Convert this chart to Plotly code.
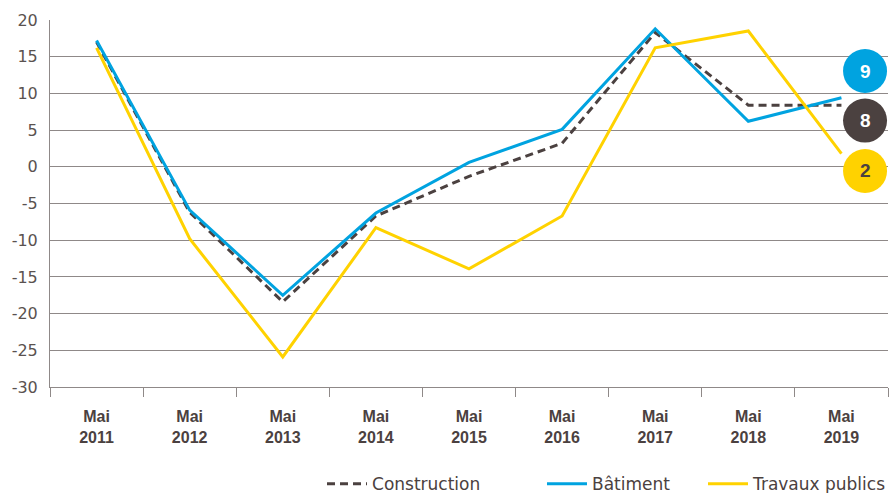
import plotly.graph_objects as go

categories = ["Mai<br>2011", "Mai<br>2012", "Mai<br>2013", "Mai<br>2014", "Mai<br>2015",
              "Mai<br>2016", "Mai<br>2017", "Mai<br>2018", "Mai<br>2019"]
construction = [17.0, -6.2, -18.4, -6.7, -1.3, 3.2, 18.3, 8.4, 8.4]
batiment = [17.2, -5.9, -17.5, -6.3, 0.6, 5.1, 18.8, 6.2, 9.4]
travaux = [16.2, -9.8, -25.9, -8.3, -13.9, -6.7, 16.2, 18.5, 1.8]
y_ticks = [20, 15, 10, 5, 0, -5, -10, -15, -20, -25, -30]

DARK = "#4b4140"
BLUE = "#00a3e0"
YELLOW = "#ffd200"
GRID = "#8f8988"
FONT = "Liberation Sans, Arial, sans-serif"
FONT2 = "DejaVu Sans, sans-serif"

fig = go.Figure()
fig.add_trace(go.Scatter(x=categories, y=construction, name="Construction", mode="lines",
                         legend="legend", showlegend=True,
                         line=dict(color=DARK, width=3, dash="8px,5px")))
fig.add_trace(go.Scatter(x=categories, y=batiment, name="Bâtiment", mode="lines",
                         legend="legend2", showlegend=True,
                         line=dict(color=BLUE, width=3)))
fig.add_trace(go.Scatter(x=categories, y=travaux, name="Travaux publics", mode="lines",
                         legend="legend3", showlegend=True,
                         line=dict(color=YELLOW, width=3)))

# end badges
badges = [(batiment[-1], BLUE, "white", 13.05), (construction[-1], DARK, "white", 6.3),
          (travaux[-1], YELLOW, DARK, -0.57)]
shapes = []
annotations = []
for val, col, tcol, ypos in badges:
    shapes.append(dict(type="circle", xref="paper", yref="y", xsizemode="pixel", ysizemode="pixel",
                       xanchor=0.9726, yanchor=ypos, x0=-22, x1=22, y0=-22, y1=22,
                       fillcolor=col, line=dict(width=0), layer="above"))
    annotations.append(dict(xref="paper", yref="y", x=0.9726, y=ypos, text="<b>%d</b>" % round(val),
                            showarrow=False, font=dict(family=FONT, size=19, color=tcol),
                            xanchor="center", yanchor="middle"))


def legend_at(xpos):
    return dict(orientation="h", xref="paper", yref="container", x=xpos, xanchor="left",
                y=0.018, yanchor="middle", font=dict(family=FONT2, size=17, color=DARK),
                itemwidth=40, bgcolor="rgba(0,0,0,0)")


fig.update_layout(
    width=892, height=493,
    margin=dict(l=50, r=4, t=20, b=106),
    paper_bgcolor="white", plot_bgcolor="white",
    font=dict(family=FONT, color=DARK, size=16),
    hovermode=False, showlegend=True,
    shapes=shapes, annotations=annotations,
    legend=legend_at(0.3246),
    legend2=legend_at(0.5871),
    legend3=legend_at(0.797),
    xaxis=dict(type="category", range=[-0.5, 8.5], tickson="boundaries", ticks="outside",
               ticklen=9, tickcolor=GRID, showgrid=False, showline=True, linecolor=GRID,
               linewidth=1, ticklabelstandoff=15,
               tickfont=dict(family=FONT, size=16, color=DARK, weight="bold"),
               fixedrange=True),
    yaxis=dict(range=[-30, 20], tickvals=y_ticks, ticktext=[str(v) for v in y_ticks],
               showgrid=True, gridcolor=GRID, gridwidth=1, zeroline=False, showline=True,
               linecolor=GRID, linewidth=1, ticks="", ticklabelstandoff=8,
               tickfont=dict(family=FONT2, size=16, color="#5a5250"), fixedrange=True),
)

fig.write_html("out.html", config={"displayModeBar": False},
               post_script="document.body.style.margin='0';document.body.style.padding='0';")
